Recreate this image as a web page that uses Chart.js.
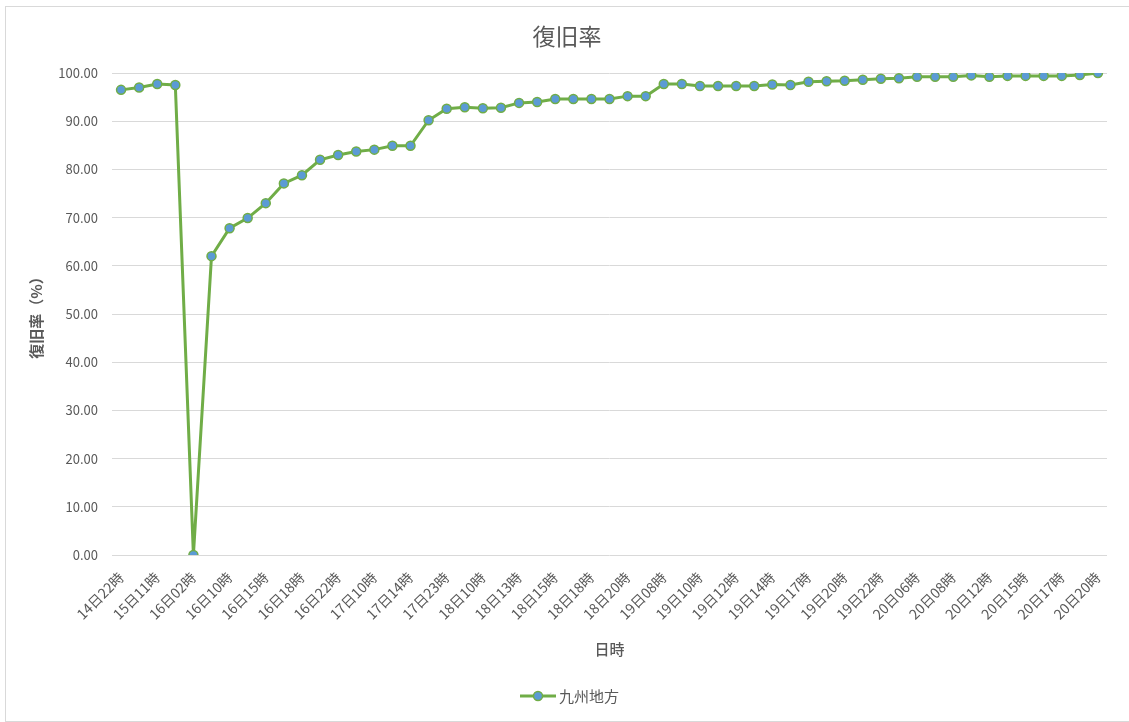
<!DOCTYPE html>
<html>
<head>
<meta charset="utf-8">
<script src="https://cdn.jsdelivr.net/npm/chart.js@4/dist/chart.umd.min.js"></script>
<style>
  body { margin: 0; background: #fff; }
  #wrap { position: relative; width: 1129px; height: 722px; overflow: hidden; }
  #frame { position: absolute; left: 5px; top: 6px; width: 1140px; height: 714px; border: 1px solid #d9d9d9; }
  canvas { position: absolute; left: 0; top: 0; }
</style>
</head>
<body>
<div id="wrap">
  <div id="frame"></div>
  <canvas id="myChart" width="1129" height="722"></canvas>
</div>
<script>
// data (odd-index labels are hidden in the original, guessed here)
var dateLabels = [
    "14日22時", "15日06時", "15日11時", "15日20時", "16日02時", "16日06時", "16日10時", "16日13時",
    "16日15時", "16日17時", "16日18時", "16日20時", "16日22時", "17日06時", "17日10時", "17日12時",
    "17日14時", "17日18時", "17日23時", "18日06時", "18日10時", "18日12時", "18日13時", "18日14時",
    "18日15時", "18日17時", "18日18時", "18日19時", "18日20時", "19日06時", "19日08時", "19日09時",
    "19日10時", "19日11時", "19日12時", "19日13時", "19日14時", "19日16時", "19日17時", "19日19時",
    "19日20時", "19日21時", "19日22時", "20日03時", "20日06時", "20日07時", "20日08時", "20日10時",
    "20日12時", "20日14時", "20日15時", "20日16時", "20日17時", "20日19時", "20日20時"
];
var recoveryRates = [
    96.5, 97.0, 97.7, 97.5, 0.0, 62.0, 67.8, 69.9,
    73.0, 77.1, 78.8, 82.0, 83.0, 83.7, 84.1, 84.9,
    84.9, 90.2, 92.6, 92.9, 92.7, 92.8, 93.8, 94.0,
    94.6, 94.6, 94.6, 94.6, 95.2, 95.2, 97.7, 97.7,
    97.3, 97.3, 97.3, 97.3, 97.6, 97.5, 98.2, 98.3,
    98.4, 98.6, 98.8, 98.9, 99.2, 99.2, 99.2, 99.5,
    99.2, 99.4, 99.4, 99.4, 99.4, 99.6, 100.0
];
var seriesName = "九州地方";

var textColor = "#595959";
var fontFamily = "'Noto Sans CJK JP', 'Noto Sans', sans-serif";

// legend drawn by hand: green line with a blue marker, like the original
var legendPlugin = {
    id: "lineLegend",
    afterDraw: function (chart) {
        var ctx = chart.ctx;
        var ds = chart.data.datasets[0];
        var cx = 538, cy = 696;
        ctx.save();
        ctx.strokeStyle = ds.borderColor;
        ctx.lineWidth = 3;
        ctx.beginPath();
        ctx.moveTo(cx - 18, cy);
        ctx.lineTo(cx + 18, cy);
        ctx.stroke();
        ctx.fillStyle = ds.pointBackgroundColor;
        ctx.strokeStyle = ds.pointBorderColor;
        ctx.lineWidth = 1.5;
        ctx.beginPath();
        ctx.arc(cx, cy, 4.5, 0, Math.PI * 2);
        ctx.fill();
        ctx.stroke();
        ctx.fillStyle = textColor;
        ctx.font = "15px " + fontFamily;
        ctx.textBaseline = "middle";
        ctx.textAlign = "left";
        ctx.fillText(ds.label, cx + 21, cy);
        ctx.restore();
    }
};

var ctx = document.getElementById("myChart").getContext("2d");
var myChart = new Chart(ctx, {
    type: "line",
    data: {
        labels: dateLabels,
        datasets: [{
            label: seriesName,
            data: recoveryRates,
            borderColor: "#70ad47",
            borderWidth: 3,
            pointBackgroundColor: "#5b9bd5",
            pointBorderColor: "#70ad47",
            pointBorderWidth: 1.5,
            pointRadius: 4.5,
            tension: 0
        }]
    },
    options: {
        responsive: false,
        animation: false,
        devicePixelRatio: 1,
        layout: { padding: { left: 5, right: 0, top: 6, bottom: 50 } },
        plugins: {
            legend: { display: false },
            tooltip: { enabled: false },
            title: {
                display: true,
                text: "復旧率",
                color: textColor,
                font: { family: fontFamily, size: 23, weight: "normal" },
                padding: { top: 16.2, bottom: 23.2 }
            }
        },
        scales: {
            x: {
                offset: true,
                grid: { display: false },
                border: { display: false },
                afterFit: function (scale) { scale.height = 117; },
                ticks: {
                    autoSkip: false,
                    minRotation: 45,
                    maxRotation: 45,
                    padding: 6,
                    color: textColor,
                    font: { family: fontFamily, size: 14 },
                    callback: function (val, i) {
                        return i % 2 === 0 ? dateLabels[i] : "";
                    }
                },
                title: {
                    display: true,
                    text: "日時",
                    color: textColor,
                    font: { family: fontFamily, size: 15, weight: "500" },
                    padding: { top: 4, bottom: 14 }
                }
            },
            y: {
                min: 0,
                max: 100,
                afterFit: function (scale) { scale.width = 107; },
                grid: { color: "#d9d9d9", lineWidth: 1, drawTicks: false },
                border: { display: false },
                ticks: {
                    stepSize: 10,
                    padding: 14,
                    color: textColor,
                    font: { family: fontFamily, size: 13 },
                    callback: function (v) { return v.toFixed(2); }
                },
                title: {
                    display: true,
                    text: "復旧率（%）",
                    color: textColor,
                    font: { family: fontFamily, size: 15, weight: "bold" },
                    padding: { top: 22, bottom: 0 }
                }
            },
            // empty spacer on the right so the plot ends where the original does
            spacer: {
                position: "right",
                grid: { display: false },
                border: { display: false },
                ticks: { display: false },
                afterFit: function (scale) { scale.width = 22; }
            }
        }
    },
    plugins: [legendPlugin]
});
</script>
</body>
</html>
